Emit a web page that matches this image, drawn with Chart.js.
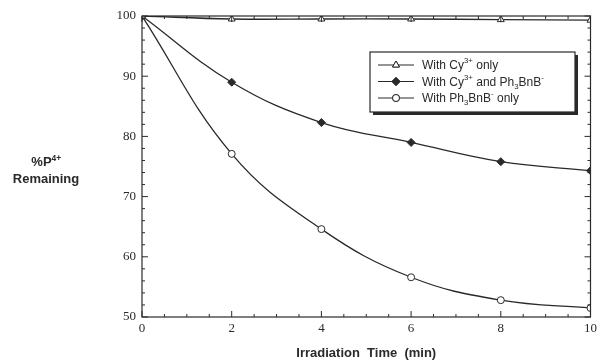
<!DOCTYPE html>
<html>
<head>
<meta charset="utf-8">
<script src="https://cdn.jsdelivr.net/npm/chart.js@4/dist/chart.umd.min.js"></script>
<style>
  html, body { margin: 0; padding: 0; background: #fff; }
  #wrap { width: 601px; height: 363px; }
</style>
</head>
<body>
<div id="wrap"><canvas id="chart" width="601" height="363"></canvas></div>
<script>
// irradiation time (min)
var times = [0, 2, 4, 6, 8, 10];
// % P4+ remaining
var cyOnly = [100, 99.5, 99.5, 99.5, 99.4, 99.3];
var cyAndBorate = [100, 89.0, 82.3, 79.0, 75.8, 74.3];
var borateOnly = [100, 77.1, 64.6, 56.6, 52.8, 51.5];

var seriesNames = [
  [['With Cy', ''], ['3+', 'sup'], [' only', '']],
  [['With Cy', ''], ['3+', 'sup'], [' and Ph', ''], ['3', 'sub'], ['BnB', ''], ['-', 'sup']],
  [['With Ph', ''], ['3', 'sub'], ['BnB', ''], ['-', 'sup'], [' only', '']]
];

var ink = '#2a2a2a';
var serif = '"Liberation Serif", "DejaVu Serif", serif';
var sans = '"Liberation Sans", Arial, sans-serif';

function pts(vals) {
  return times.map(function (t, i) { return {x: t, y: vals[i]}; });
}

function drawRich(ctx, parts, x, y, size, bold) {
  var w = bold ? 'bold ' : '';
  parts.forEach(function (p) {
    var s = size, dy = 0;
    if (p[1] === 'sup') { s = size * 0.65; dy = -size * 0.4; }
    if (p[1] === 'sub') { s = size * 0.65; dy = size * 0.35; }
    ctx.font = w + s + 'px ' + sans;
    ctx.fillText(p[0], x, y + dy);
    x += ctx.measureText(p[0]).width;
  });
  return x;
}

var framePlugin = {
  id: 'frame',
  afterDraw: function (chart) {
    var ctx = chart.ctx, a = chart.chartArea;
    var xs = chart.scales.x, ys = chart.scales.y;
    ctx.save();
    ctx.strokeStyle = ink;
    ctx.lineWidth = 1.2;
    ctx.strokeRect(a.left, a.top, a.right - a.left, a.bottom - a.top);
    // inward ticks on all four sides
    ctx.lineWidth = 1;
    ctx.beginPath();
    for (var v = 0; v <= 10.001; v += 0.5) {
      var px = xs.getPixelForValue(v);
      var len = (Math.abs(v % 2) < 0.01) ? 6 : 3;
      ctx.moveTo(px, a.bottom); ctx.lineTo(px, a.bottom - len);
      ctx.moveTo(px, a.top); ctx.lineTo(px, a.top + len);
    }
    for (var u = 50; u <= 100; u += 2) {
      var py = ys.getPixelForValue(u);
      var l2 = (u % 10 === 0) ? 6 : 3;
      ctx.moveTo(a.left, py); ctx.lineTo(a.left + l2, py);
      ctx.moveTo(a.right, py); ctx.lineTo(a.right - l2, py);
    }
    ctx.stroke();

    // axis titles
    ctx.fillStyle = ink;
    ctx.textBaseline = 'alphabetic';
    ctx.textAlign = 'center';
    ctx.font = 'bold 13px ' + sans;
    ctx.fillText('Irradiation  Time  (min)', (a.left + a.right) / 2, 357);
    ctx.textAlign = 'left';
    ctx.font = 'bold 13px ' + sans;
    var t1w = ctx.measureText('%P').width;
    ctx.font = 'bold 8px ' + sans;
    var t1s = ctx.measureText('4+').width;
    var sx = 46 - (t1w + t1s) / 2;
    drawRich(ctx, [['%P', ''], ['4+', 'sup']], sx, 166, 13, true);
    ctx.textAlign = 'center';
    ctx.font = 'bold 13px ' + sans;
    ctx.fillText('Remaining', 46, 183);

    // legend box with drop shadow
    var bx = 370, by = 52, bw = 205, bh = 60;
    ctx.fillStyle = ink;
    ctx.fillRect(bx + 3, by + 3, bw, bh);
    ctx.fillStyle = '#fff';
    ctx.fillRect(bx, by, bw, bh);
    ctx.strokeStyle = ink;
    ctx.lineWidth = 1.2;
    ctx.strokeRect(bx, by, bw, bh);
    ctx.textAlign = 'left';
    chart.data.datasets.forEach(function (ds, i) {
      var ry = by + 13 + i * 16.5;
      ctx.strokeStyle = ds.borderColor;
      ctx.lineWidth = 1;
      ctx.beginPath();
      ctx.moveTo(bx + 8, ry); ctx.lineTo(bx + 44, ry);
      ctx.stroke();
      Chart.helpers.drawPoint(ctx, {
        pointStyle: ds.pointStyle, radius: ds.pointRadius, rotation: 0,
        borderWidth: 1
      }, bx + 26, ry);
      ctx.fillStyle = ds.pointBackgroundColor;
      ctx.strokeStyle = ink;
      ctx.fill(); ctx.stroke();
      ctx.fillStyle = ink;
      ctx.textBaseline = 'middle';
      drawRich(ctx, seriesNames[i], bx + 52, ry + 1, 12, false);
    });
    ctx.restore();
  }
};

var common = {
  borderColor: ink,
  borderWidth: 1.3,
  pointBorderColor: ink,
  pointBorderWidth: 1,
  tension: 0.4,
  fill: false
};

new Chart(document.getElementById('chart'), {
  type: 'line',
  data: {
    datasets: [
      Object.assign({label: 'With Cy3+ only', data: pts(cyOnly),
        pointStyle: 'triangle', pointRadius: 4, pointBackgroundColor: '#fff'}, common),
      Object.assign({label: 'With Cy3+ and Ph3BnB-', data: pts(cyAndBorate),
        pointStyle: 'rectRot', pointRadius: 4, pointBackgroundColor: ink}, common),
      Object.assign({label: 'With Ph3BnB- only', data: pts(borateOnly),
        pointStyle: 'circle', pointRadius: 3.5, pointBackgroundColor: '#fff'}, common)
    ]
  },
  options: {
    responsive: false,
    animation: false,
    events: [],
    layout: {padding: {left: 0, right: 6, top: 16, bottom: 0}},
    plugins: {legend: {display: false}, tooltip: {enabled: false}},
    scales: {
      x: {
        type: 'linear', min: 0, max: 10,
        grid: {display: false, drawTicks: false},
        border: {display: false},
        ticks: {stepSize: 2, color: ink, padding: 4, maxRotation: 0,
          font: {family: serif, size: 13}},
        afterFit: function (s) { s.height = 46; }
      },
      y: {
        min: 50, max: 100,
        grid: {display: false, drawTicks: false},
        border: {display: false},
        ticks: {stepSize: 10, color: ink, padding: 6,
          font: {family: serif, size: 13}},
        afterFit: function (s) { s.width = 142; }
      }
    }
  },
  plugins: [framePlugin]
});
</script>
</body>
</html>
